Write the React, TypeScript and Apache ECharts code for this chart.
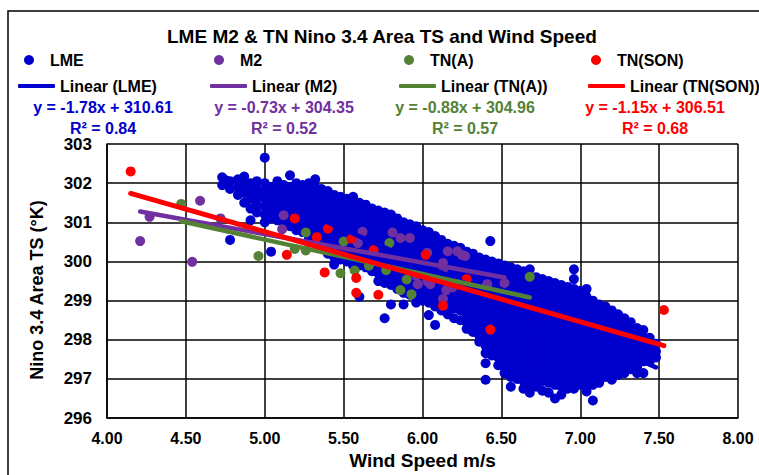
import React, { useEffect, useRef } from "react";
import * as echarts from "echarts";

const FONT = "'Liberation Sans', Arial, Helvetica, sans-serif";

// ---- data ----
const chartTitle = "LME M2 & TN Nino 3.4 Area TS and Wind Speed";
const xAxisName = "Wind Speed m/s";
const yAxisName = "Nino 3.4 Area TS (°K)";

const seriesNames = ["LME", "M2", "TN(A)", "TN(SON)"];
const seriesColors = ["#0000CC", "#7030A0", "#548235", "#FF0000"];
const trendSlopes = [-1.78, -0.73, -0.88, -1.15];
const trendIntercepts = [310.61, 304.35, 304.96, 306.51];
const trendR2 = [0.84, 0.52, 0.57, 0.68];

// LME: wind speed column, followed by the temperatures read in that column
const lmeColumns: [number, number[]][] = [
  [4.73, [302.15, 301.95]],
  [4.78, [302.05, 301.85, 300.55]],
  [4.83, [302.1, 301.9, 301.7]],
  [4.87, [302.17, 301.95, 301.75, 301.5]],
  [4.91, [302.0, 301.8, 301.6, 301.35, 301.05]],
  [4.95, [302.05, 301.85, 301.65, 301.45, 301.25]],
  [5.0, [302.65, 302.0, 301.8, 301.6, 301.4, 301.2, 301.0]],
  [5.04, [301.9, 301.7, 301.5, 301.3, 301.1, 300.25]],
  [5.08, [302.05, 301.85, 301.65, 301.45, 301.25, 301.05]],
  [5.12, [301.95, 301.75, 301.55, 301.35, 301.15, 300.95]],
  [5.16, [302.2, 301.9, 301.7, 301.5, 301.3, 301.1, 300.9]],
  [5.2, [302.0, 301.8, 301.6, 301.4, 301.2, 301.0, 300.8]],
  [5.24, [301.95, 301.75, 301.55, 301.35, 301.15, 300.95, 300.75]],
  [5.28, [302.0, 301.8, 301.6, 301.4, 301.2, 301.0, 300.8, 300.6]],
  [5.32, [302.1, 301.9, 301.7, 301.5, 301.3, 301.1, 300.9, 300.7, 300.5]],
  [5.36, [301.85, 301.65, 301.45, 301.25, 301.05, 300.85, 300.65, 300.45]],
  [5.4, [301.8, 301.6, 301.4, 301.2, 301.0, 300.8, 300.6, 300.4, 300.2]],
  [5.44, [301.7, 301.5, 301.3, 301.1, 300.9, 300.7, 300.5, 300.3, 300.1, 299.92]],
  [5.48, [301.65, 301.45, 301.25, 301.05, 300.85, 300.65, 300.45, 300.25, 300.05]],
  [5.52, [301.6, 301.4, 301.2, 301.0, 300.8, 300.6, 300.4, 300.2, 300.0]],
  [5.56, [301.65, 301.45, 301.25, 301.05, 300.85, 300.65, 300.45, 300.25, 300.05, 299.9]],
  [5.6, [301.5, 301.3, 301.1, 300.9, 300.7, 300.5, 300.3, 300.1, 299.9, 299.1]],
  [5.64, [301.45, 301.25, 301.05, 300.85, 300.65, 300.45, 300.25, 300.05, 299.85]],
  [5.68, [301.35, 301.15, 300.95, 300.75, 300.55, 300.35, 300.15, 299.95, 299.75]],
  [5.72, [301.3, 301.1, 300.9, 300.7, 300.5, 300.3, 300.1, 299.9, 299.7, 299.5]],
  [5.76, [301.25, 301.05, 300.85, 300.65, 300.45, 300.25, 300.05, 299.85, 299.65, 299.45, 298.55]],
  [5.8, [301.2, 301.0, 300.8, 300.6, 300.4, 300.2, 300.0, 299.8, 299.6, 299.4, 298.9]],
  [5.84, [301.1, 300.9, 300.7, 300.5, 300.3, 300.1, 299.9, 299.7, 299.5, 299.3]],
  [5.88, [301.0, 300.8, 300.6, 300.4, 300.2, 300.0, 299.8, 299.6, 299.4, 299.2, 298.9]],
  [5.92, [300.95, 300.75, 300.55, 300.35, 300.15, 299.95, 299.75, 299.55, 299.35, 299.15]],
  [5.96, [300.9, 300.7, 300.5, 300.3, 300.1, 299.9, 299.7, 299.5, 299.3, 299.1, 298.95]],
  [6.0, [300.8, 300.6, 300.4, 300.2, 300.0, 299.8, 299.6, 299.4, 299.2, 299.0]],
  [6.04, [300.75, 300.55, 300.35, 300.15, 299.95, 299.75, 299.55, 299.35, 299.15, 298.95, 298.63]],
  [6.08, [300.65, 300.45, 300.25, 300.05, 299.85, 299.65, 299.45, 299.25, 299.05, 298.85, 298.38]],
  [6.12, [300.55, 300.35, 300.15, 299.95, 299.75, 299.55, 299.35, 299.15, 298.95, 298.75]],
  [6.16, [300.45, 300.25, 300.05, 299.85, 299.65, 299.45, 299.25, 299.05, 298.85, 298.65]],
  [6.2, [300.4, 300.2, 300.0, 299.8, 299.6, 299.4, 299.2, 299.0, 298.8, 298.55]],
  [6.24, [300.35, 300.15, 299.95, 299.75, 299.55, 299.35, 299.15, 298.95, 298.75, 298.5]],
  [6.28, [300.25, 300.05, 299.85, 299.65, 299.45, 299.25, 299.05, 298.85, 298.65, 298.45, 298.28]],
  [6.32, [300.2, 300.0, 299.8, 299.6, 299.4, 299.2, 299.0, 298.8, 298.6, 298.4, 298.2]],
  [6.36, [300.1, 299.9, 299.7, 299.5, 299.3, 299.1, 298.9, 298.7, 298.5, 298.3, 298.1, 297.95]],
  [6.4, [300.05, 299.85, 299.65, 299.45, 299.25, 299.05, 298.85, 298.65, 298.45, 298.25, 298.05, 297.85, 297.66, 297.4, 296.98]],
  [6.43, [300.52]],
  [6.44, [300.0, 299.8, 299.6, 299.4, 299.2, 299.0, 298.8, 298.6, 298.4, 298.2, 298.0, 297.8, 297.6]],
  [6.48, [299.95, 299.75, 299.55, 299.35, 299.15, 298.95, 298.75, 298.55, 298.35, 298.15, 297.95, 297.75, 297.55, 297.35]],
  [6.52, [299.9, 299.7, 299.5, 299.3, 299.1, 298.9, 298.7, 298.5, 298.3, 298.1, 297.9, 297.7, 297.5, 297.3, 297.15]],
  [6.56, [299.85, 299.65, 299.45, 299.25, 299.05, 298.85, 298.65, 298.45, 298.25, 298.05, 297.85, 297.65, 297.45, 297.25, 297.05, 296.8]],
  [6.6, [299.8, 299.6, 299.4, 299.2, 299.0, 298.8, 298.6, 298.4, 298.2, 298.0, 297.8, 297.6, 297.4, 297.2, 297.0]],
  [6.64, [299.75, 299.55, 299.35, 299.15, 298.95, 298.75, 298.55, 298.35, 298.15, 297.95, 297.75, 297.55, 297.35, 297.15, 296.95, 296.75]],
  [6.68, [299.8, 299.6, 299.4, 299.2, 299.0, 298.8, 298.6, 298.4, 298.2, 298.0, 297.8, 297.6, 297.4, 297.2, 297.0, 296.8, 296.65]],
  [6.72, [299.6, 299.4, 299.2, 299.0, 298.8, 298.6, 298.4, 298.2, 298.0, 297.8, 297.6, 297.4, 297.2, 297.0, 296.8]],
  [6.76, [299.55, 299.35, 299.15, 298.95, 298.75, 298.55, 298.35, 298.15, 297.95, 297.75, 297.55, 297.35, 297.15, 296.95, 296.7]],
  [6.8, [299.5, 299.3, 299.1, 298.9, 298.7, 298.5, 298.3, 298.1, 297.9, 297.7, 297.5, 297.3, 297.1, 296.9, 296.65]],
  [6.84, [299.45, 299.25, 299.05, 298.85, 298.65, 298.45, 298.25, 298.05, 297.85, 297.65, 297.45, 297.25, 297.05, 296.85, 296.5]],
  [6.88, [299.4, 299.2, 299.0, 298.8, 298.6, 298.4, 298.2, 298.0, 297.8, 297.6, 297.4, 297.2, 297.0, 296.8, 296.6]],
  [6.92, [299.35, 299.15, 298.95, 298.75, 298.55, 298.35, 298.15, 297.95, 297.75, 297.55, 297.35, 297.15, 296.95, 296.75]],
  [6.96, [299.8, 299.55, 299.3, 299.1, 298.9, 298.7, 298.5, 298.3, 298.1, 297.9, 297.7, 297.5, 297.3, 297.1, 296.9, 296.75]],
  [7.0, [299.25, 299.05, 298.85, 298.65, 298.45, 298.25, 298.05, 297.85, 297.65, 297.45, 297.25, 297.05, 296.85]],
  [7.04, [299.3, 299.1, 298.9, 298.7, 298.5, 298.3, 298.1, 297.9, 297.7, 297.5, 297.3, 297.1, 296.9, 296.68]],
  [7.08, [299.0, 298.85, 298.65, 298.45, 298.25, 298.05, 297.85, 297.65, 297.45, 297.25, 297.05, 296.85, 296.45]],
  [7.12, [298.9, 298.7, 298.5, 298.3, 298.1, 297.9, 297.7, 297.5, 297.3, 297.1, 296.9]],
  [7.16, [298.85, 298.65, 298.45, 298.25, 298.05, 297.85, 297.65, 297.45, 297.25, 297.05]],
  [7.2, [298.75, 298.55, 298.35, 298.15, 297.95, 297.75, 297.55, 297.35, 297.15, 296.98]],
  [7.24, [298.65, 298.45, 298.25, 298.05, 297.85, 297.65, 297.45, 297.25, 297.1]],
  [7.28, [298.55, 298.35, 298.15, 297.95, 297.75, 297.55, 297.35, 297.15]],
  [7.32, [298.45, 298.25, 298.05, 297.85, 297.65, 297.45, 297.25]],
  [7.36, [298.3, 298.1, 297.9, 297.7, 297.5, 297.3, 297.15]],
  [7.4, [298.25, 298.05, 297.85, 297.65, 297.45, 297.15]],
  [7.44, [298.05, 297.85, 297.65, 297.45]],
  [7.48, [297.9, 297.7, 297.55]],
];

const m2Points: [number, number][] = [
  [4.21, 300.52], [4.27, 301.14], [4.54, 299.99], [4.59, 301.55], [4.72, 301.1],
  [5.11, 300.82], [5.12, 301.18], [5.59, 300.47], [5.62, 300.76], [5.81, 300.74],
  [5.86, 300.6], [5.92, 300.6], [5.96, 299.64], [5.97, 299.42], [6.03, 299.5],
  [6.03, 300.22], [6.05, 299.42], [6.13, 299.8], [6.13, 299.96], [6.13, 299.04],
  [6.15, 299.27], [6.16, 300.26], [6.19, 299.34], [6.22, 300.26], [6.25, 300.17],
  [6.27, 300.14], [6.41, 299.42], [6.52, 299.45],
];

const tnAPoints: [number, number][] = [
  [4.47, 301.47], [4.96, 300.14], [5.19, 300.32], [5.26, 300.74], [5.26, 300.28],
  [5.48, 299.7], [5.5, 300.51], [5.57, 299.77], [5.66, 299.89], [5.77, 299.78],
  [5.79, 300.47], [5.86, 299.27], [5.9, 299.54], [5.93, 299.16], [6.68, 299.61],
];

const tnSonPoints: [number, number][] = [
  [4.15, 302.3], [5.14, 300.17], [5.19, 301.1], [5.33, 300.62], [5.38, 299.72],
  [5.4, 300.84], [5.55, 300.58], [5.58, 299.58], [5.58, 299.2], [5.69, 300.29],
  [5.72, 299.15], [6.02, 300.17], [6.13, 298.87], [6.28, 299.55], [6.43, 298.26],
  [7.53, 298.76],
];

// ---- layout (pixels) ----
const dotLegendLeft = [24, 214, 404, 591];
const lineLegendLeft = [18, 210, 399, 588];
const eqCenterX = [103, 284, 465, 655];

export default function App() {
  const ref = useRef<HTMLDivElement>(null);

  useEffect(() => {
    if (!ref.current) return;
    const chart = echarts.init(ref.current, undefined, { renderer: "svg" });

    const lmePoints: [number, number][] = [];
    lmeColumns.forEach(([x, ys]) => ys.forEach((y) => lmePoints.push([x, y])));
    const allPoints = [lmePoints, m2Points, tnAPoints, tnSonPoints];

    const trendLines = allPoints.map((pts, i) => {
      const xs = pts.map((p) => p[0]);
      const x0 = Math.min(...xs);
      const x1 = Math.max(...xs);
      return [
        [x0, trendSlopes[i] * x0 + trendIntercepts[i]],
        [x1, trendSlopes[i] * x1 + trendIntercepts[i]],
      ];
    });

    const textStyle = { fontFamily: FONT, fontWeight: "bold" as const, fontSize: 16, color: "#000" };

    const legends: any[] = [];
    seriesNames.forEach((n, i) => {
      legends.push({
        data: [{ name: n, icon: "circle" }],
        left: dotLegendLeft[i],
        top: 52,
        padding: 0,
        itemWidth: 32,
        itemHeight: 10,
        selectedMode: false,
        textStyle,
      });
      legends.push({
        data: [{ name: `Linear (${n})`, icon: "roundRect" }],
        left: lineLegendLeft[i],
        top: 78,
        padding: 0,
        itemWidth: 37,
        itemHeight: 4,
        selectedMode: false,
        textStyle,
      });
    });

    const graphics: any[] = [
      {
        type: "rect",
        z: -10,
        silent: true,
        shape: { x: 8, y: 11, width: 800, height: 500 },
        style: { fill: "none", stroke: "#000", lineWidth: 1.5 },
      },
      {
        type: "text",
        x: 37,
        y: 290,
        rotation: Math.PI / 2,
        style: {
          text: yAxisName,
          fill: "#000",
          font: `bold 18px ${FONT}`,
          textAlign: "center",
          textVerticalAlign: "middle",
        },
      },
    ];
    seriesNames.forEach((_, i) => {
      const s = trendSlopes[i];
      graphics.push({
        type: "text",
        x: eqCenterX[i],
        y: 107,
        style: {
          text: `y = ${s < 0 ? "-" : ""}${Math.abs(s).toFixed(2)}x + ${trendIntercepts[i].toFixed(2)}`,
          fill: seriesColors[i],
          font: `bold 16px ${FONT}`,
          textAlign: "center",
          textVerticalAlign: "middle",
        },
      });
      graphics.push({
        type: "text",
        x: eqCenterX[i],
        y: 128,
        style: {
          text: `R² = ${trendR2[i].toFixed(2)}`,
          fill: seriesColors[i],
          font: `bold 16px ${FONT}`,
          textAlign: "center",
          textVerticalAlign: "middle",
        },
      });
    });

    const scatterSeries = seriesNames.map((n, i) => ({
      name: n,
      type: "scatter",
      data: allPoints[i],
      symbol: "circle",
      symbolSize: 10,
      itemStyle: { color: seriesColors[i], opacity: 1 },
      z: 2,
    }));
    const lineSeries = seriesNames.map((n, i) => ({
      name: `Linear (${n})`,
      type: "line",
      data: trendLines[i],
      symbol: "none",
      lineStyle: { color: seriesColors[i], width: i === 3 ? 5 : 4.5, cap: "round" },
      itemStyle: { color: seriesColors[i] },
      z: 3,
    }));

    chart.setOption({
      animation: false,
      backgroundColor: "#fff",
      title: {
        text: chartTitle,
        left: 167,
        top: 27,
        padding: 0,
        textStyle: { fontFamily: FONT, fontWeight: "bold", fontSize: 19, color: "#000" },
      },
      legend: legends,
      graphic: graphics,
      grid: { left: 107, right: 21, top: 144, bottom: 52, containLabel: false },
      xAxis: {
        type: "value",
        min: 4,
        max: 8,
        interval: 0.5,
        name: xAxisName,
        nameLocation: "middle",
        nameGap: 30,
        nameTextStyle: { fontFamily: FONT, fontWeight: "bold", fontSize: 19, color: "#000" },
        axisLine: { show: true, lineStyle: { color: "#000", width: 1.5 } },
        axisTick: { show: false },
        axisLabel: {
          formatter: (v: number) => v.toFixed(2),
          fontFamily: FONT,
          fontWeight: "bold",
          fontSize: 16,
          color: "#000",
          margin: 12,
        },
        splitLine: { show: true, lineStyle: { color: "#000", width: 1.5 } },
      },
      yAxis: {
        type: "value",
        min: 296,
        max: 303,
        interval: 1,
        axisLine: { show: true, lineStyle: { color: "#000", width: 1.5 } },
        axisTick: { show: false },
        axisLabel: {
          fontFamily: FONT,
          fontWeight: "bold",
          fontSize: 17,
          color: "#000",
          margin: 15,
        },
        splitLine: { show: true, lineStyle: { color: "#000", width: 1.5 } },
      },
      series: [...scatterSeries, ...lineSeries],
    });

    return () => chart.dispose();
  }, []);

  return (
    <div
      ref={ref}
      style={{ position: "fixed", left: 0, top: 0, width: 759, height: 475, background: "#fff" }}
    />
  );
}
